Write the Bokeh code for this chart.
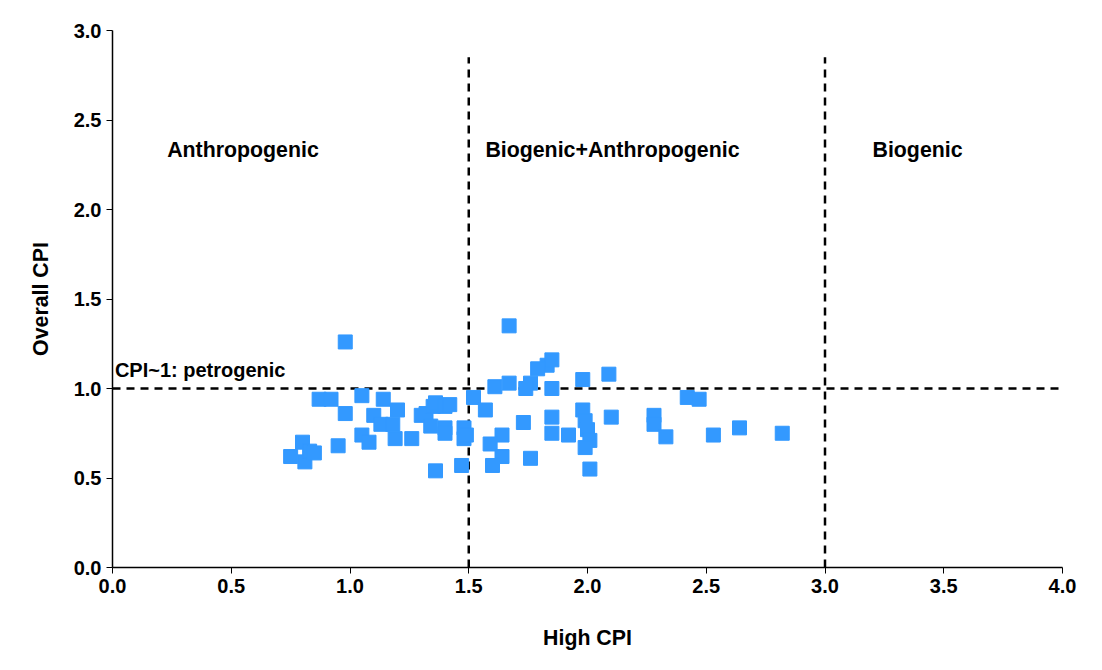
from bokeh.plotting import figure
from bokeh.models import Range1d, Label, CustomJSTickFormatter
from bokeh.core.properties import value
from bokeh.embed import file_html
from bokeh.resources import INLINE

high_cpi = [0.75, 0.80, 0.81, 0.83, 0.85, 0.87, 0.92, 0.95, 0.98, 0.98,
            1.05, 1.05, 1.08, 1.10, 1.13, 1.14, 1.18, 1.20, 1.19, 1.26,
            1.30, 1.32, 1.35, 1.34, 1.36, 1.40, 1.42, 1.40, 1.40, 1.36,
            1.47, 1.48, 1.48, 1.49,
            1.67, 1.52, 1.57, 1.61, 1.67, 1.76, 1.74, 1.83, 1.85, 1.85,
            1.98, 2.09, 2.42, 2.47, 1.73, 1.85, 1.85, 1.98, 1.99, 1.92,
            2.00, 2.01, 1.99, 2.10, 2.28, 2.28, 2.33, 2.53, 2.64, 2.82,
            2.01, 1.76, 1.64, 1.59, 1.64, 1.60, 1.79]
overall_cpi = [0.62, 0.70, 0.59, 0.65, 0.64, 0.94, 0.94, 0.68, 1.26, 0.86,
               0.96, 0.74, 0.70, 0.85, 0.80, 0.94, 0.80, 0.88, 0.72, 0.72,
               0.85, 0.86, 0.90, 0.79, 0.92, 0.90, 0.91, 0.78, 0.75, 0.54,
               0.57, 0.78, 0.72, 0.74,
               1.35, 0.95, 0.88, 1.01, 1.03, 1.03, 1.00, 1.13, 1.16, 1.00,
               1.05, 1.08, 0.95, 0.94, 0.81, 0.84, 0.75, 0.88, 0.82, 0.74,
               0.77, 0.71, 0.67, 0.84, 0.85, 0.80, 0.73, 0.74, 0.78, 0.75,
               0.55, 0.61, 0.74, 0.69, 0.62, 0.57, 1.11]

region_x = [0.23, 1.57, 3.2]
region_y = [2.33, 2.33, 2.33]
region_labels = ["Anthropogenic", "Biogenic+Anthropogenic", "Biogenic"]

FONT = "Liberation Sans"

p = figure(width=1086, height=652, output_backend="svg", toolbar_location=None,
           x_range=Range1d(0, 4), y_range=Range1d(0, 3),
           x_axis_label="High CPI", y_axis_label="Overall CPI",
           min_border_left=112, min_border_right=24, min_border_top=30,
           min_border_bottom=80)
p.outline_line_color = None
p.grid.grid_line_color = None

for ax in (p.xaxis[0], p.yaxis[0]):
    ax.major_label_text_font = FONT
    ax.major_label_text_font_style = "bold"
    ax.major_label_text_font_size = "15pt"
    ax.major_label_text_color = "black"
    ax.axis_label_text_font = FONT
    ax.axis_label_text_font_style = "bold"
    ax.axis_label_text_font_size = "16pt"
    ax.axis_label_text_color = "black"
    ax.axis_line_color = "black"
    ax.axis_line_width = 1.5
    ax.major_tick_line_color = "black"
    ax.major_tick_in = 0
    ax.major_tick_out = 6
    ax.minor_tick_line_color = None
    ax.formatter = CustomJSTickFormatter(code="return tick.toFixed(1);")
p.xaxis.ticker = [0, 0.5, 1, 1.5, 2, 2.5, 3, 3.5, 4]
p.yaxis.ticker = [0, 0.5, 1, 1.5, 2, 2.5, 3]
p.xaxis.axis_label_standoff = 30
p.yaxis.axis_label_standoff = 18

p.segment(x0=[1.5, 3.0], y0=[0, 0], x1=[1.5, 3.0], y1=[2.85, 2.85],
          line_color="black", line_width=2.5, line_dash="8 6")
p.segment(x0=[0], y0=[1.0], x1=[4], y1=[1.0],
          line_color="black", line_width=2.5, line_dash="8 6")

p.scatter(high_cpi, overall_cpi, marker="square", size=14,
          fill_color="#3399ff", line_color="#3399ff")

p.text(region_x, region_y, text=region_labels, text_font=value(FONT),
       text_font_style="bold", text_font_size="16pt", text_color="black",
       text_baseline="middle")
p.add_layout(Label(x=0.01, y=1.04, text="CPI~1: petrogenic", text_font=FONT,
                   text_font_style="bold", text_font_size="15pt",
                   text_color="black"))

open("out.html", "w").write(file_html(p, INLINE))
